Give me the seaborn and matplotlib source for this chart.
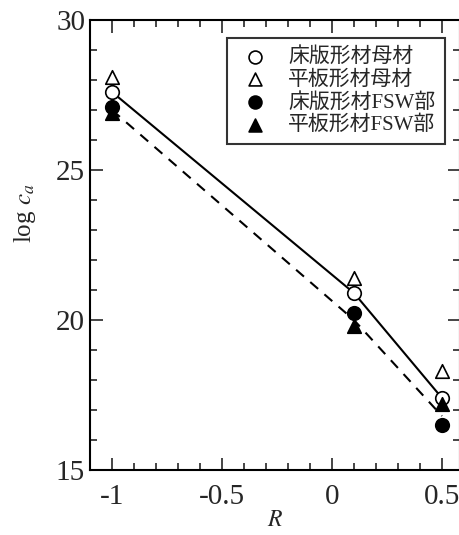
import numpy as np
import pandas as pd
import matplotlib
matplotlib.use("Agg")
import matplotlib.pyplot as plt
from matplotlib.ticker import MultipleLocator
import seaborn as sns

################################# DATA ################################
R = [-1.0, 0.1, 0.5]
base_floor = [27.6, 20.9, 17.4]      # 床版形材母材
base_flat = [28.1, 21.4, 18.3]       # 平板形材母材
fsw_floor = [27.1, 20.25, 16.5]      # 床版形材FSW部
fsw_flat = [26.9, 19.8, 17.2]        # 平板形材FSW部
fit_base = [27.6, 20.9, 17.4]
fit_fsw = [27.0, 20.0, 16.8]
labels = ["床版形材母材", "平板形材母材", "床版形材FSW部", "平板形材FSW部"]

df = pd.DataFrame({"R": R * 4,
                   "logca": base_floor + base_flat + fsw_floor + fsw_flat,
                   "kind": np.repeat(labels, 3)})

################################# STYLE ################################
sns.set_style("ticks")
plt.rcParams['font.family'] = ['Liberation Serif', 'Noto Sans CJK JP']
plt.rcParams['mathtext.fontset'] = 'stix'

fig = plt.figure(figsize=(4.6, 5.35), dpi=100)
ax = fig.add_axes([90/460, 65/535, 370/460, 450/535])

################################# LINES ################################
sns.lineplot(x=R, y=fit_base, color='black', lw=1.5, ax=ax)
sns.lineplot(x=R, y=fit_fsw, color='black', lw=1.5, ax=ax, linestyle=(0, (5, 4)))

################################# MARKERS ################################
styles = {
    labels[0]: dict(marker='o', facecolor='white'),
    labels[1]: dict(marker='^', facecolor='white'),
    labels[2]: dict(marker='o', facecolor='black'),
    labels[3]: dict(marker='^', facecolor='black'),
}
for lab in labels:
    sub = df[df['kind'] == lab]
    st = styles[lab]
    sns.scatterplot(data=sub, x='R', y='logca', marker=st['marker'], s=95,
                    facecolor=st['facecolor'], edgecolor='black', linewidth=1.2,
                    label=lab, ax=ax, zorder=3)

################################# AXES ################################
ax.set_xlim(-1.1, 0.582)
ax.set_ylim(15, 30)
ax.xaxis.set_minor_locator(MultipleLocator(0.1))
ax.yaxis.set_major_locator(MultipleLocator(5))
ax.yaxis.set_minor_locator(MultipleLocator(1))
ax.set_xticks([-1, -0.5, 0, 0.5])
ax.set_xticklabels(['-1', '-0.5', '0', '0.5'])
ax.tick_params(which='both', direction='in', top=True, right=True, width=1.2, labelsize=21)
ax.tick_params(which='major', length=9)
ax.tick_params(which='minor', length=5)
ax.tick_params(axis='x', pad=10)
for sp in ax.spines.values():
    sp.set_linewidth(1.5)
    sp.set_color('black')

ax.set_xlabel('$R$', fontsize=17, labelpad=0)
ax.set_ylabel('log $c_a$', fontsize=18)
ax.yaxis.set_label_coords(-0.14, 0.57)

leg = ax.legend(loc='upper right', bbox_to_anchor=(0.959, 0.96), frameon=True, fancybox=False,
                edgecolor='black', fontsize=15, handletextpad=0.7, borderpad=0.45,
                labelspacing=0.14, handlelength=1.8, borderaxespad=0, markerscale=0.95)
leg.get_frame().set_linewidth(1.5)

fig.savefig('out.png', dpi=100)
